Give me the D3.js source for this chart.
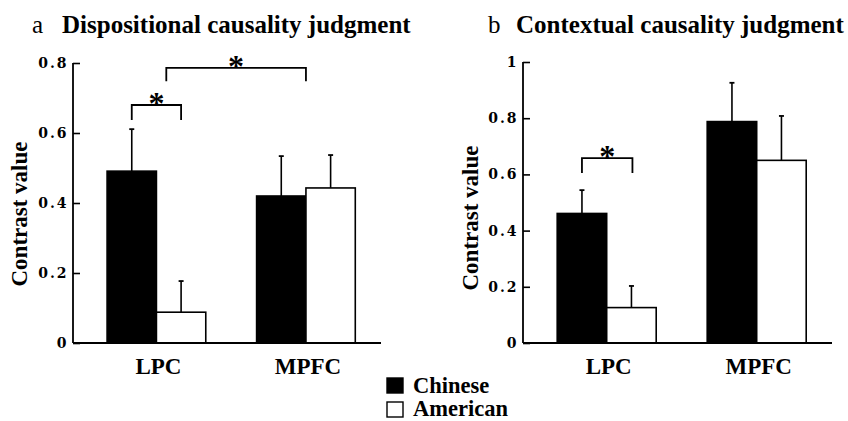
<!DOCTYPE html>
<html>
<head>
<meta charset="utf-8">
<script src="https://cdn.jsdelivr.net/npm/d3@7"></script>
<style>
  html, body { margin: 0; padding: 0; background: #fff; }
  svg { display: block; }
  text { font-family: "Liberation Serif", "Times New Roman", serif; fill: #000; }
  .tick text { font-family: "DejaVu Serif", serif; font-weight: bold; font-size: 14px; letter-spacing: 2px; }
</style>
</head>
<body>
<svg id="chart" width="848" height="421"></svg>
<script>
// ---- data ----
const regions = ["LPC", "MPFC"];
const groups = ["Chinese", "American"];
// Panel a: Dispositional causality judgment
const dispMean = { Chinese: [0.491, 0.420], American: [0.088, 0.443] };
const dispErr  = { Chinese: [0.120, 0.114], American: [0.089, 0.094] };
const dispTicks = [0, 0.2, 0.4, 0.6, 0.8];
// Panel b: Contextual causality judgment
const ctxMean = { Chinese: [0.461, 0.788], American: [0.126, 0.650] };
const ctxErr  = { Chinese: [0.083, 0.138], American: [0.077, 0.158] };
const ctxTicks = [0, 0.2, 0.4, 0.6, 0.8, 1];

const svg = d3.select("#chart");

function panel(opt) {
  const g = svg.append("g");
  const x0 = d3.scaleBand().domain(regions).range([opt.left, opt.right])
    .paddingInner(0.34).paddingOuter(0.2).align(0.57);
  const x1 = d3.scaleBand().domain(groups).range([0, x0.bandwidth()]);
  const y = d3.scaleLinear().domain([0, opt.ymax]).range([opt.bottom, opt.top]);

  // bars
  groups.forEach(gr => {
    regions.forEach((r, i) => {
      const v = opt.mean[gr][i], e = opt.err[gr][i];
      const bx = x0(r) + x1(gr);
      const cx = bx + x1.bandwidth() / 2;
      g.append("line").attr("x1", cx).attr("x2", cx)
        .attr("y1", y(v)).attr("y2", y(v + e))
        .attr("stroke", "#000").attr("stroke-width", 1.6);
      g.append("line").attr("x1", cx - 2.5).attr("x2", cx + 2.5)
        .attr("y1", y(v + e)).attr("y2", y(v + e))
        .attr("stroke", "#000").attr("stroke-width", 1.8);
      g.append("rect").attr("x", bx).attr("y", y(v))
        .attr("width", x1.bandwidth()).attr("height", y(0) - y(v))
        .attr("fill", gr === "Chinese" ? "#000" : "#fff")
        .attr("stroke", "#000").attr("stroke-width", 1.6);
    });
  });

  // y axis
  const ya = g.append("g").attr("transform", `translate(${opt.left},0)`)
    .call(d3.axisLeft(y).tickValues(opt.ticks).tickSizeInner(-7).tickSizeOuter(0)
      .tickPadding(4.5).tickFormat(d => d === 0 ? "0" : d === 1 ? "1" : d3.format(".1f")(d)));
  ya.select(".domain").attr("stroke-width", 1.8).attr("d", `M0,${y(opt.ymax)}V${y(0)}`);
  ya.selectAll(".tick line").attr("stroke-width", 1.6);
  ya.selectAll(".tick text").attr("fill", "#000");

  // x axis line
  g.append("line").attr("x1", opt.left).attr("x2", opt.right)
    .attr("y1", y(0)).attr("y2", y(0)).attr("stroke", "#000").attr("stroke-width", 1.8);
  // x labels
  regions.forEach(r => {
    g.append("text").attr("x", x0(r) + x0.bandwidth() / 2 + 2).attr("y", 374)
      .attr("text-anchor", "middle").attr("font-weight", "bold").attr("font-size", 23)
      .text(r);
  });

  // y label
  g.append("text").attr("transform", `translate(${opt.ylabX},${opt.ylabY}) rotate(-90)`)
    .attr("text-anchor", "middle").attr("font-weight", "bold").attr("font-size", 23)
    .text("Contrast value");

  // title
  g.append("text").attr("x", opt.letterX).attr("y", 33).attr("font-size", 25)
    .attr("font-family", "Liberation Sans").text(opt.letter);
  g.append("text").attr("x", opt.titleX).attr("y", 33).attr("font-weight", "bold")
    .attr("font-size", 25).text(opt.title);

  // significance brackets
  opt.brackets.forEach(b => {
    const xa = x0(b.a[0]) + x0.bandwidth() * b.a[1];
    const xb = x0(b.b[0]) + x0.bandwidth() * b.b[1];
    const yt = y(b.level), yl = y(b.level - b.drop);
    g.append("path").attr("d", `M${xa},${yl}V${yt}H${xb}V${yl}`)
      .attr("fill", "none").attr("stroke", "#000").attr("stroke-width", 1.8);
    g.append("text").attr("x", (xa + xb) / 2).attr("y", yt + 9)
      .attr("text-anchor", "middle").attr("font-weight", "bold").attr("font-size", 32)
      .attr("font-family", "DejaVu Sans").text("*");
  });
}

panel({
  left: 73, right: 381, top: 63, bottom: 343, ymax: 0.8,
  mean: dispMean, err: dispErr, ticks: dispTicks,
  letter: "a", letterX: 32, title: "Dispositional causality judgment", titleX: 62,
  ylabX: 27, ylabY: 214,
  brackets: [
    { a: ["LPC", 0.25], b: ["LPC", 0.75], level: 0.68, drop: 0.043 },
    { a: ["LPC", 0.6], b: ["MPFC", 0.5], level: 0.786, drop: 0.038 }
  ]
});
panel({
  left: 523, right: 832, top: 62, bottom: 343, ymax: 1,
  mean: ctxMean, err: ctxErr, ticks: ctxTicks,
  letter: "b", letterX: 488, title: "Contextual causality judgment", titleX: 516,
  ylabX: 478, ylabY: 218,
  brackets: [
    { a: ["LPC", 0.25], b: ["LPC", 0.76], level: 0.658, drop: 0.053 }
  ]
});

// legend
const leg = svg.append("g");
groups.forEach((gr, i) => {
  leg.append("rect").attr("x", 387).attr("y", 378 + i * 24).attr("width", 16).attr("height", 15)
    .attr("fill", gr === "Chinese" ? "#000" : "#fff").attr("stroke", "#000").attr("stroke-width", 1.4);
  leg.append("text").attr("x", 413).attr("y", 393 + i * 23).attr("font-weight", "bold")
    .attr("font-size", 22.5).text(gr);
});
</script>
</body>
</html>
